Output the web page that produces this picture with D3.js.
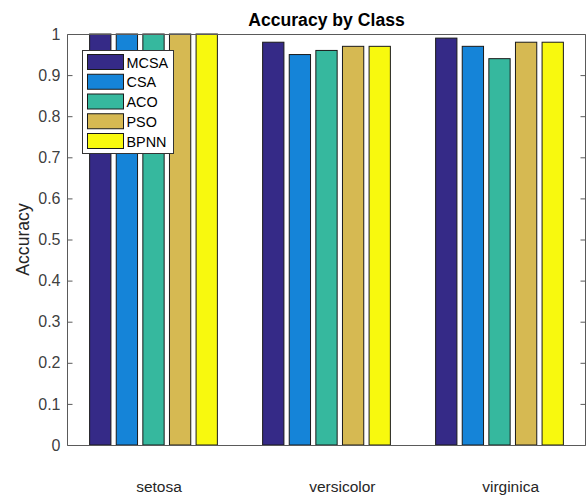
<!DOCTYPE html>
<html><head><meta charset="utf-8">
<script src="https://cdn.jsdelivr.net/npm/d3@7/dist/d3.min.js"></script>
<style>body{margin:0;background:#fff}svg{display:block}text{font-family:Arial,"Liberation Sans",Helvetica,sans-serif}</style>
</head><body><div id="chart"></div>
<script>
const categories = ["setosa", "versicolor", "virginica"];
const seriesNames = ["MCSA", "CSA", "ACO", "PSO", "BPNN"];
const MCSA = [1.00, 0.98, 0.99];
const CSA  = [1.00, 0.95, 0.97];
const ACO  = [1.00, 0.96, 0.94];
const PSO  = [1.00, 0.97, 0.98];
const BPNN = [1.00, 0.97, 0.98];
const seriesValues = [MCSA, CSA, ACO, PSO, BPNN];
const yTicks = [0, 0.1, 0.2, 0.3, 0.4, 0.5, 0.6, 0.7, 0.8, 0.9, 1];
const yTickLabels = ["0", "0.1", "0.2", "0.3", "0.4", "0.5", "0.6", "0.7", "0.8", "0.9", "1"];
const colors = ["#352a87", "#1584d8", "#36b89e", "#d6b952", "#f8f90e"];

const W = 587, H = 496;
const m = {left: 67, right: 1, top: 34, bottom: 51};
const svg = d3.select("#chart").append("svg").attr("width", W).attr("height", H);

const x = d3.scaleLinear().domain([0.5, 3.5]).range([m.left, W - m.right]);
const x0 = d3.scaleBand().domain(categories).range([m.left, W - m.right]).paddingInner(0.2308).paddingOuter(0.1154);
const x1 = d3.scaleBand().domain(seriesNames).range([0, x0.bandwidth()]).paddingInner(0.2).paddingOuter(0.1);
const y = d3.scaleLinear().domain([0, 1]).range([H - m.bottom, m.top]);

const axisColor = "#262626";

// bars
const g = svg.append("g");
categories.forEach((c, ci) => {
  seriesNames.forEach((s, si) => {
    const v = seriesValues[si][ci];
    g.append("rect")
      .attr("x", x0(c) + x1(s))
      .attr("y", y(v))
      .attr("width", x1.bandwidth())
      .attr("height", y(0) - y(v))
      .attr("fill", colors[si])
      .attr("stroke", "#1a1a1a")
      .attr("stroke-width", 1);
  });
});

// axes box
const L = m.left + 0.5, R = W - m.right - 0.5, T = m.top + 0.5, B = H - m.bottom + 0.5;
svg.append("path").attr("d", `M${L},${T}H${R}V${B}H${L}Z`).attr("fill", "none").attr("stroke", "#5a5a5a").attr("stroke-width", 1);

// y axis left
const yAxisL = d3.axisLeft(y).tickValues(yTicks).tickFormat((d, i) => yTickLabels[i]).tickSizeInner(-5).tickSizeOuter(0).tickPadding(7);
const gl = svg.append("g").attr("transform", `translate(${L},0)`).call(yAxisL);
gl.select(".domain").remove();
gl.selectAll("line").attr("stroke", "#5a5a5a");
gl.selectAll("text").attr("fill", axisColor).attr("font-size", 16).attr("fill-opacity", 0.9);

const yAxisR = d3.axisRight(y).tickValues(yTicks).tickFormat("").tickSizeInner(-5).tickSizeOuter(0);
const gr = svg.append("g").attr("transform", `translate(${R},0)`).call(yAxisR);
gr.select(".domain").remove();
gr.selectAll("line").attr("stroke", "#5a5a5a");

// category labels (text placed in data units, left aligned)
categories.forEach((c, i) => {
  svg.append("text")
    .attr("x", x(i + 1 - 0.1))
    .attr("y", y(-0.1))
    .attr("dominant-baseline", "central")
    .attr("font-size", 15.5)
    .attr("fill", axisColor)
    .text(c);
});

// title
svg.append("text").attr("x", (m.left + W - m.right) / 2).attr("y", 26)
  .attr("text-anchor", "middle").attr("font-weight", "bold").attr("font-size", 17.6)
  .attr("fill", "#000").text("Accuracy by Class");

// y label
svg.append("text").attr("transform", `translate(29,${(m.top + H - m.bottom) / 2}) rotate(-90)`)
  .attr("text-anchor", "middle").attr("font-size", 17.6).attr("fill", axisColor).text("Accuracy");

// legend
const lg = svg.append("g").attr("transform", "translate(82.5,50.5)");
lg.append("rect").attr("width", 91).attr("height", 103).attr("fill", "#fff").attr("stroke", "#333").attr("stroke-width", 1);
seriesNames.forEach((s, i) => {
  const ry = 4 + i * 19.75;
  lg.append("rect").attr("x", 5).attr("y", ry).attr("width", 36).attr("height", 15)
    .attr("fill", colors[i]).attr("stroke", "#1a1a1a").attr("stroke-width", 1);
  lg.append("text").attr("x", 44).attr("y", ry + 8).attr("dominant-baseline", "central")
    .attr("font-size", 14.4).attr("fill", "#000").text(s);
});
</script></body></html>
